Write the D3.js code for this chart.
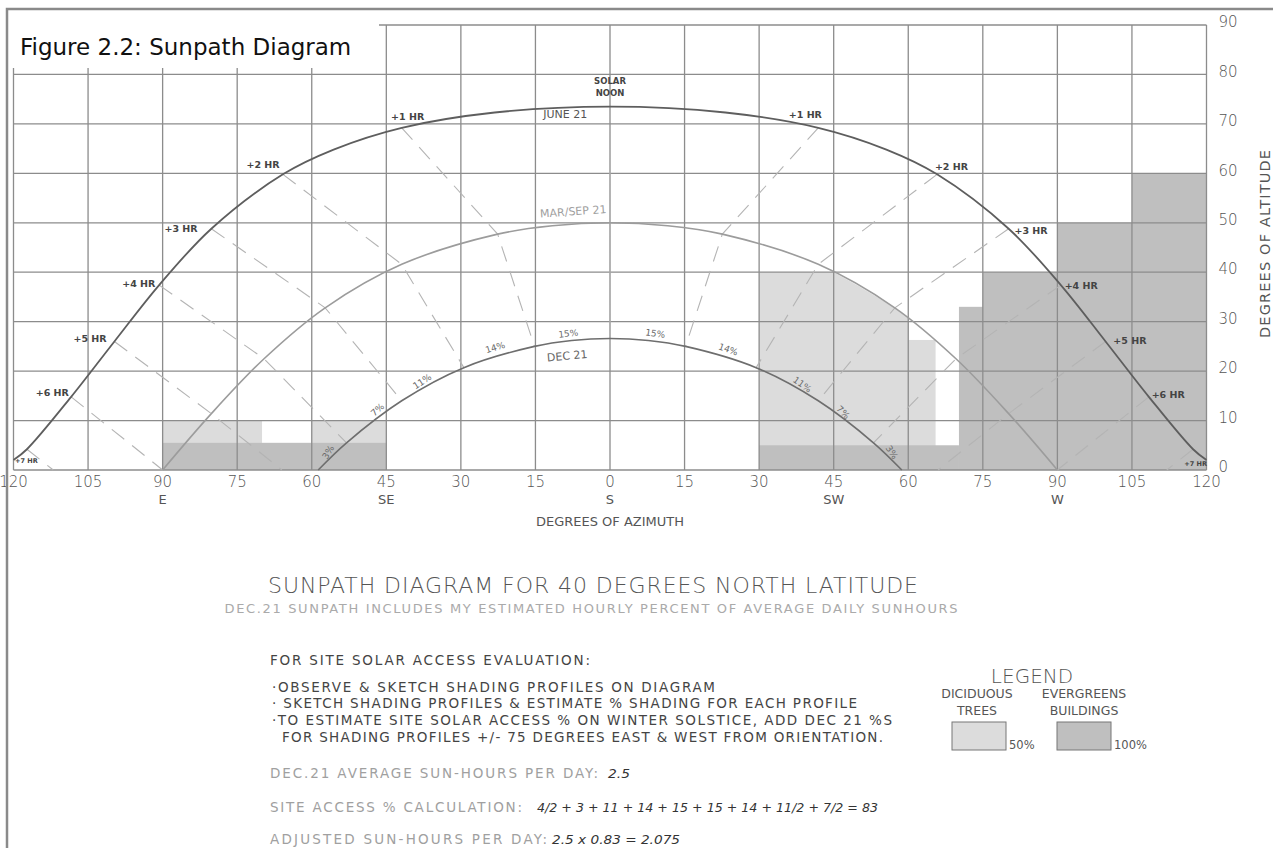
<!DOCTYPE html>
<html>
<head>
<meta charset="utf-8">
<script src="https://cdn.jsdelivr.net/npm/d3@7"></script>
<style>
  body { margin: 0; background: #fff; }
  svg { display: block; }
  text { font-family: 'DejaVu Sans', sans-serif; }
</style>
</head>
<body>
<svg id="chart" width="1273" height="848"></svg>
<script>
// azimuth ticks (east = negative), altitude ticks
const azTicks = [-120, -105, -90, -75, -60, -45, -30, -15, 0, 15, 30, 45, 60, 75, 90, 105, 120]
const altTicks = [0, 10, 20, 30, 40, 50, 60, 70, 80, 90]
const compass = [
  { az: -90, label: 'E' },
  { az: -45, label: 'SE' },
  { az: 0, label: 'S' },
  { az: 45, label: 'SW' },
  { az: 90, label: 'W' },
]

// sun paths [azimuth, altitude]
const june21 = [
  [-120, 2], [-117.3, 4.2], [-108.4, 14.8], [-99.7, 26.0], [-90.7, 37.4], [-80.2, 48.8],
  [-65.8, 59.8], [-55.6, 64.8], [-41.9, 69.2], [-23.2, 72.3], [0, 73.5], [23.2, 72.3],
  [41.9, 69.2], [55.6, 64.8], [65.8, 59.8], [80.2, 48.8], [90.7, 37.4], [99.7, 26.0],
  [108.4, 14.8], [117.3, 4.2], [120, 2],
]
const marSep21 = [
  [-90, 0], [-80.2, 11.4], [-69.6, 22.5], [-57.3, 32.8], [-41.9, 41.6], [-22.6, 47.7],
  [-11.6, 49.4], [0, 50], [11.6, 49.4], [22.6, 47.7], [41.9, 41.6], [57.3, 32.8],
  [69.6, 22.5], [80.2, 11.4], [90, 0],
]
const dec21 = [
  [-58.7, 0], [-53.0, 5.5], [-41.9, 14.0], [-29.4, 20.7], [-15.2, 25.0], [-7.7, 26.2],
  [0, 26.6], [7.7, 26.2], [15.2, 25.0], [29.4, 20.7], [41.9, 14.0], [53.0, 5.5], [58.7, 0],
]

// dashed hour lines (june -> mar/sep -> dec, cut at horizon)
const hourLines = [
  [[0, 73.5], [0, 26.6]],
  [[-41.9, 69.2], [-22.6, 47.7], [-15.2, 25.0]],
  [[-65.8, 59.8], [-41.9, 41.6], [-29.4, 20.7]],
  [[-80.2, 48.8], [-57.3, 32.8], [-41.9, 14.0]],
  [[-90.7, 37.4], [-69.6, 22.5], [-53.0, 5.5]],
  [[-99.7, 26.0], [-80.2, 11.4], [-66, 0]],
  [[-108.4, 14.8], [-90, 0]],
  [[-117.3, 4.2], [-112, 0]],
  [[41.9, 69.2], [22.6, 47.7], [15.2, 25.0]],
  [[65.8, 59.8], [41.9, 41.6], [29.4, 20.7]],
  [[80.2, 48.8], [57.3, 32.8], [41.9, 14.0]],
  [[90.7, 37.4], [69.6, 22.5], [53.0, 5.5]],
  [[99.7, 26.0], [80.2, 11.4], [66, 0]],
  [[108.4, 14.8], [90, 0]],
  [[117.3, 4.2], [112, 0]],
]

// hour labels on june path [az, alt, text]
const hourLabels = [
  [-40.7, 71.4, '+1 HR'], [-69.8, 61.7, '+2 HR'], [-86.3, 48.9, '+3 HR'], [-94.8, 37.6, '+4 HR'],
  [-104.6, 26.5, '+5 HR'], [-112.2, 15.6, '+6 HR'],
  [39.3, 71.8, '+1 HR'], [68.7, 61.3, '+2 HR'], [84.7, 48.5, '+3 HR'], [94.8, 37.2, '+4 HR'],
  [104.6, 26.1, '+5 HR'], [112.3, 15.2, '+6 HR'],
]
const hour7Labels = [[-117.4, 1.9, '+7 HR'], [117.8, 1.3, '+7 HR']]

// dec 21 hourly percent of sun-hours [az, alt, angle, text]
const pctLabels = [
  [-8.4, 27.6, -6, '15%'], [-23.1, 24.8, -17, '14%'], [-37.8, 17.9, -33, '11%'],
  [-46.8, 12.2, -42, '7%'], [-56.7, 3.6, -58, '3%'],
  [9.1, 27.6, 8, '15%'], [23.8, 24.4, 20, '14%'], [38.7, 17.3, 35, '11%'],
  [46.9, 11.7, 45, '7%'], [56.7, 3.6, 57, '3%'],
]

// shading profiles: [az from, az to, top altitude]
const deciduousRects = [[-90, -70, 10], [-60, -45, 10], [60, 65.5, 26.3]]
const deciduousOutline = [[30, 0], [30, 40], [45, 40], [50, 37.2], [57.3, 32.8], [60, 30.8], [60, 0]]
const evergreenRects = [[-90, -45, 5.5], [30, 70.2, 5], [70.2, 75, 33], [75, 90, 40], [90, 105, 50], [105, 120, 60]]

const notes = [
  '\u00b7OBSERVE & SKETCH SHADING PROFILES ON DIAGRAM',
  '\u00b7 SKETCH SHADING PROFILES & ESTIMATE % SHADING FOR EACH PROFILE',
  '\u00b7TO ESTIMATE SITE SOLAR ACCESS % ON WINTER SOLSTICE, ADD DEC 21 %S',
  'FOR SHADING PROFILES +/- 75 DEGREES EAST & WEST FROM ORIENTATION.',
]

const svg = d3.select('#chart')
const x = d3.scaleLinear().domain([-120, 120]).range([13.5, 1206.5])
const y = d3.scaleLinear().domain([0, 90]).range([470, 25])

const lightFill = '#dcdcdc'
const darkFill = '#bfbfbf'

// shading first so the grid shows through
svg.append('g')
  .selectAll('rect')
  .data(deciduousRects)
  .enter()
  .append('rect')
  .attr('x', (d) => x(d[0]))
  .attr('width', (d) => x(d[1]) - x(d[0]))
  .attr('y', (d) => y(d[2]))
  .attr('height', (d) => y(0) - y(d[2]))
  .attr('fill', lightFill)

svg.append('path')
  .datum(deciduousOutline)
  .attr('d', d3.line().x((d) => x(d[0])).y((d) => y(d[1])))
  .attr('fill', lightFill)

svg.append('g')
  .selectAll('rect')
  .data(evergreenRects)
  .enter()
  .append('rect')
  .attr('x', (d) => x(d[0]))
  .attr('width', (d) => x(d[1]) - x(d[0]))
  .attr('y', (d) => y(d[2]))
  .attr('height', (d) => y(0) - y(d[2]))
  .attr('fill', darkFill)

// grid
const grid = svg.append('g').attr('stroke', '#8c8c8c').attr('stroke-width', 1.3)
grid.selectAll('.v')
  .data(azTicks)
  .enter()
  .append('line')
  .attr('x1', (d) => x(d))
  .attr('x2', (d) => x(d))
  .attr('y1', y(90))
  .attr('y2', y(0))
grid.selectAll('.h')
  .data(altTicks)
  .enter()
  .append('line')
  .attr('x1', x(-120))
  .attr('x2', x(120))
  .attr('y1', (d) => y(d))
  .attr('y2', (d) => y(d))

// hour lines
const straight = d3.line().x((d) => x(d[0])).y((d) => y(d[1]))
svg.append('g')
  .selectAll('path')
  .data(hourLines)
  .enter()
  .append('path')
  .attr('d', straight)
  .attr('fill', 'none')
  .attr('stroke', '#b4b4b4')
  .attr('stroke-width', 1.1)
  .attr('stroke-dasharray', '16,10')

// sun paths
const smooth = d3.line().x((d) => x(d[0])).y((d) => y(d[1])).curve(d3.curveCatmullRom.alpha(0.5))
const paths = [
  { pts: june21, color: '#5e5e5e', w: 1.8 },
  { pts: marSep21, color: '#9c9c9c', w: 1.6 },
  { pts: dec21, color: '#6e6e6e', w: 1.6 },
]
svg.append('g')
  .selectAll('path')
  .data(paths)
  .enter()
  .append('path')
  .attr('d', (d) => smooth(d.pts))
  .attr('fill', 'none')
  .attr('stroke', (d) => d.color)
  .attr('stroke-width', (d) => d.w)

// labels in the plot
const lab = svg.append('g').attr('fill', '#444')
lab.selectAll('.hr')
  .data(hourLabels)
  .enter()
  .append('text')
  .attr('x', (d) => x(d[0]))
  .attr('y', (d) => y(d[1]))
  .attr('dy', '0.35em')
  .attr('text-anchor', 'middle')
  .attr('font-size', 9.5)
  .attr('font-weight', 'bold')
  .text((d) => d[2])
lab.selectAll('.hr7')
  .data(hour7Labels)
  .enter()
  .append('text')
  .attr('x', (d) => x(d[0]))
  .attr('y', (d) => y(d[1]))
  .attr('dy', '0.35em')
  .attr('text-anchor', 'middle')
  .attr('font-size', 6.5)
  .attr('font-weight', 'bold')
  .text((d) => d[2])
lab.selectAll('.pct')
  .data(pctLabels)
  .enter()
  .append('text')
  .attr('transform', (d) => 'translate(' + x(d[0]) + ',' + y(d[1]) + ')rotate(' + d[2] + ')')
  .attr('dy', '0.35em')
  .attr('text-anchor', 'middle')
  .attr('font-size', 9)
  .attr('fill', '#6a6a6a')
  .text((d) => d[3])

lab.append('text').attr('x', x(0)).attr('y', y(78.0)).attr('text-anchor', 'middle')
  .attr('font-size', 8.5).attr('font-weight', 'bold').text('SOLAR')
lab.append('text').attr('x', x(0)).attr('y', y(75.6)).attr('text-anchor', 'middle')
  .attr('font-size', 8.5).attr('font-weight', 'bold').text('NOON')
lab.append('text').attr('x', x(-9)).attr('y', y(72)).attr('dy', '0.35em').attr('text-anchor', 'middle')
  .attr('font-size', 11).attr('fill', '#555').text('JUNE 21')
lab.append('text').attr('transform', 'translate(' + x(-7.4) + ',' + y(52.3) + ')rotate(-4)')
  .attr('dy', '0.35em').attr('text-anchor', 'middle')
  .attr('font-size', 11).attr('fill', '#a0a0a0').text('MAR/SEP 21')
lab.append('text').attr('transform', 'translate(' + x(-8.6) + ',' + y(23.1) + ')rotate(-5)')
  .attr('dy', '0.35em').attr('text-anchor', 'middle')
  .attr('font-size', 11).attr('fill', '#666').text('DEC 21')

// axes text
const axisText = svg.append('g').attr('fill', '#555')
axisText.selectAll('.az')
  .data(azTicks)
  .enter()
  .append('text')
  .attr('x', (d) => x(d))
  .attr('y', y(0) + 12)
  .attr('dy', '0.35em')
  .attr('text-anchor', 'middle')
  .attr('font-size', 15)
  .attr('font-weight', 300)
  .text((d) => Math.abs(d))
axisText.selectAll('.dir')
  .data(compass)
  .enter()
  .append('text')
  .attr('x', (d) => x(d.az))
  .attr('y', y(0) + 29)
  .attr('dy', '0.35em')
  .attr('text-anchor', 'middle')
  .attr('font-size', 13)
  .text((d) => d.label)
axisText.append('text')
  .attr('x', x(0))
  .attr('y', y(0) + 51)
  .attr('dy', '0.35em')
  .attr('text-anchor', 'middle')
  .attr('font-size', 13)
  .attr('textLength', 148)
  .text('DEGREES OF AZIMUTH')
axisText.selectAll('.alt')
  .data(altTicks)
  .enter()
  .append('text')
  .attr('x', x(120) + 12)
  .attr('y', (d) => y(d) - 3)
  .attr('dy', '0.35em')
  .attr('text-anchor', 'start')
  .attr('font-size', 15)
  .attr('font-weight', 300)
  .text((d) => d)
axisText.append('text')
  .attr('transform', 'translate(1265,244)rotate(-90)')
  .attr('dy', '0.35em')
  .attr('text-anchor', 'middle')
  .attr('font-size', 14.5)
  .attr('textLength', 188)
  .text('DEGREES OF ALTITUDE')

// frame and figure caption
svg.append('rect')
  .attr('x', 7).attr('y', 9).attr('width', 1300).attr('height', 900)
  .attr('fill', 'none').attr('stroke', '#8a8a8a').attr('stroke-width', 2.5)
svg.append('rect')
  .attr('x', 9).attr('y', 11).attr('width', 370).attr('height', 57)
  .attr('fill', '#fff')
svg.append('text')
  .attr('x', 20).attr('y', 55)
  .attr('font-family', 'Lato, sans-serif')
  .attr('font-size', 23)
  .attr('fill', '#111')
  .text('Figure 2.2: Sunpath Diagram')

// titles under the chart
svg.append('text')
  .attr('x', 593).attr('y', 585).attr('dy', '0.35em')
  .attr('text-anchor', 'middle')
  .attr('font-size', 22).attr('font-weight', 300).attr('fill', '#555')
  .attr('textLength', 650)
  .text('SUNPATH DIAGRAM FOR 40 DEGREES NORTH LATITUDE')
svg.append('text')
  .attr('x', 591).attr('y', 608).attr('dy', '0.35em')
  .attr('text-anchor', 'middle')
  .attr('font-size', 13).attr('fill', '#aaa')
  .attr('textLength', 733)
  .text('DEC.21 SUNPATH INCLUDES MY ESTIMATED HOURLY PERCENT OF AVERAGE DAILY SUNHOURS')

svg.append('text')
  .attr('x', 270).attr('y', 660).attr('dy', '0.35em')
  .attr('font-size', 13.5).attr('fill', '#444')
  .attr('textLength', 320)
  .text('FOR SITE SOLAR ACCESS EVALUATION:')
const noteLen = [443, 585, 620, 601]
svg.append('g')
  .selectAll('text')
  .data(notes)
  .enter()
  .append('text')
  .attr('x', (d, i) => (i === 3 ? 282 : 272))
  .attr('y', (d, i) => 687 + i * 16.7)
  .attr('dy', '0.35em')
  .attr('font-size', 13.5)
  .attr('fill', '#444')
  .attr('textLength', (d, i) => noteLen[i])
  .text((d) => d)

const calc = [
  { y: 773, label: 'DEC.21 AVERAGE SUN-HOURS PER DAY:', len: 328, vx: 608, value: '2.5', vlen: 22 },
  { y: 807, label: 'SITE ACCESS % CALCULATION:', len: 252, vx: 537, value: '4/2 + 3 + 11 + 14 + 15 + 15 + 14 + 11/2 + 7/2 = 83', vlen: 341 },
  { y: 839, label: 'ADJUSTED SUN-HOURS PER DAY:', len: 277, vx: 552, value: '2.5 x 0.83 = 2.075', vlen: 128 },
]
const calcG = svg.append('g')
calcG.selectAll('.lbl')
  .data(calc)
  .enter()
  .append('text')
  .attr('x', 270)
  .attr('y', (d) => d.y)
  .attr('dy', '0.35em')
  .attr('font-size', 13.5)
  .attr('fill', '#a0a0a0')
  .attr('textLength', (d) => d.len)
  .text((d) => d.label)
calcG.selectAll('.val')
  .data(calc)
  .enter()
  .append('text')
  .attr('x', (d) => d.vx)
  .attr('y', (d) => d.y)
  .attr('dy', '0.35em')
  .attr('font-size', 13)
  .attr('font-style', 'italic')
  .attr('fill', '#333')
  .attr('textLength', (d) => d.vlen)
  .attr('lengthAdjust', 'spacingAndGlyphs')
  .text((d) => d.value)

// legend
const legend = svg.append('g').attr('fill', '#555')
legend.append('text').attr('x', 1032).attr('y', 676).attr('dy', '0.35em').attr('text-anchor', 'middle')
  .attr('font-size', 20).attr('font-weight', 300).text('LEGEND')
const legendItems = [
  { cx: 977, l1: 'DICIDUOUS', l2: 'TREES', bx: 952, fill: lightFill, pct: '50%' },
  { cx: 1084, l1: 'EVERGREENS', l2: 'BUILDINGS', bx: 1057, fill: darkFill, pct: '100%' },
]
const li = legend.selectAll('.item').data(legendItems).enter().append('g')
li.append('text').attr('x', (d) => d.cx).attr('y', 694).attr('dy', '0.35em').attr('text-anchor', 'middle')
  .attr('font-size', 12.5).text((d) => d.l1)
li.append('text').attr('x', (d) => d.cx).attr('y', 711).attr('dy', '0.35em').attr('text-anchor', 'middle')
  .attr('font-size', 12.5).text((d) => d.l2)
li.append('rect').attr('x', (d) => d.bx).attr('y', 722).attr('width', 54).attr('height', 28)
  .attr('fill', (d) => d.fill).attr('stroke', '#777').attr('stroke-width', 1)
li.append('text').attr('x', (d) => d.bx + 57).attr('y', 745).attr('dy', '0.35em')
  .attr('font-size', 11.5).text((d) => d.pct)
</script>
</body>
</html>
